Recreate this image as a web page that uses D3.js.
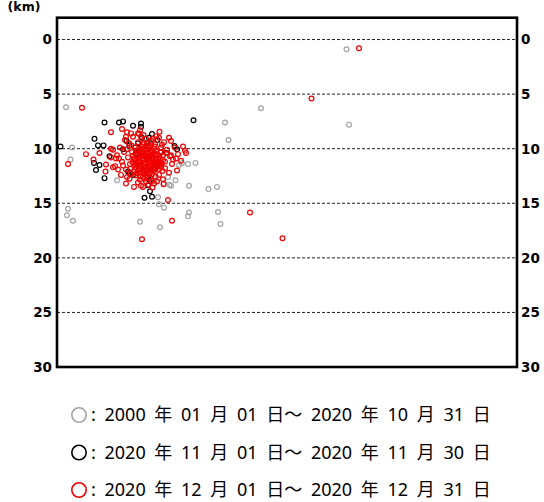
<!DOCTYPE html>
<html>
<head>
<meta charset="utf-8">
<script src="https://cdn.jsdelivr.net/npm/d3@7"></script>
<style>
  body { margin: 0; background: #fff; }
  svg { display: block; }
</style>
</head>
<body>
<script>
/* ---------------------------- */
/* DATA                         */
/* ---------------------------- */

// Depth ticks (km)
const depthTicks = [0, 5, 10, 15, 20, 25, 30];
const gridDepths = [0, 5, 10, 15, 20, 25];

// Legend labels (period of each group)
const periods = [
  ": 2000 年 01 月 01 日～ 2020 年 10 月 31 日",
  ": 2020 年 11 月 01 日～ 2020 年 11 月 30 日",
  ": 2020 年 12 月 01 日～ 2020 年 12 月 31 日"
];

// Hypocenters [distance, depth] -- 2000/01/01 - 2020/10/31
const grayQuakes = [
  [28.95, 0.9], [29.2, 7.8], [20.4, 6.3], [16.8, 7.6], [17.15, 9.2],
  [0.9, 6.2], [1.5, 9.9], [1.35, 11.0], [1.1, 15.5], [1.0, 16.1], [1.6, 16.6],
  [6.0, 12.9], [9.75, 13.0], [10.1, 12.7], [11.25, 13.3], [11.85, 12.9],
  [11.1, 12.6], [12.2, 11.5], [12.5, 11.3], [13.1, 11.4], [13.85, 11.3],
  [13.2, 13.4], [15.15, 13.7], [16.0, 13.5], [10.1, 14.45], [10.2, 15.1],
  [10.7, 15.4], [10.3, 17.2], [8.3, 16.7], [13.2, 15.85], [13.1, 16.2],
  [16.1, 15.8], [16.35, 16.9], [10.7, 13.2], [11.4, 13.4]
];

// 2020/11/01 - 2020/11/30
const blackQuakes = [
  [0.35, 9.8], [3.75, 9.1], [4.1, 9.7], [4.65, 9.7], [4.75, 7.6], [6.2, 7.6],
  [6.6, 7.5], [7.6, 7.9], [8.4, 7.7], [8.4, 8.0], [13.65, 7.4], [9.5, 8.65],
  [9.2, 9.0], [8.5, 9.0], [7.25, 9.7], [6.6, 10.05], [11.75, 9.75], [12.0, 10.05],
  [11.0, 10.4], [5.25, 10.7], [3.7, 11.3], [3.9, 11.95], [4.75, 12.7], [7.1, 12.1],
  [7.6, 12.4], [8.9, 12.1], [9.25, 12.9], [9.1, 13.35], [9.3, 13.9], [8.75, 14.5],
  [9.5, 14.4], [7.9, 10.4], [9.4, 9.5], [4.25, 11.5], [8.1, 9.5], [8.9, 10.1],
  [10.4, 10.3], [7.25, 12.25], [9.1, 12.6], [10.05, 9.2], [6.95, 9.3], [9.75, 11.8]
];

// 2020/12/01 - 2020/12/31
const redQuakes = [
  // scattered events
  [30.2, 0.8], [25.45, 5.4], [2.5, 6.25], [19.3, 15.85], [22.55, 18.2], [8.5, 18.3],
  [11.5, 16.6], [11.1, 14.7], [10.65, 13.25], [1.1, 11.4], [2.9, 10.5], [3.65, 11.0],
  [4.25, 10.4], [4.9, 11.45], [4.85, 12.1], [5.6, 11.7], [5.4, 10.0], [5.4, 8.5],
  [6.5, 8.2], [7.0, 8.5], [7.4, 8.6], [8.1, 8.6], [8.3, 8.3], [10.25, 8.45],
  [12.9, 10.4], [11.4, 10.6], [6.9, 13.2], [8.6, 13.5], [9.9, 11.3], [10.4, 11.65],
  [5.9, 10.9],
  // main cluster
  [8.9, 10.9], [8.6, 10.7], [9.2, 11.1], [8.3, 11.2], [9.5, 10.6], [8.0, 10.5],
  [9.8, 11.3], [8.7, 11.5], [9.1, 10.3], [7.7, 11.0], [10.1, 10.9], [8.4, 10.1],
  [9.4, 11.7], [7.9, 11.7], [10.3, 11.5], [8.8, 12.0], [7.5, 10.3], [9.9, 10.2],
  [7.3, 11.4], [10.6, 10.6], [8.2, 12.2], [9.6, 12.1], [8.5, 9.8], [9.3, 9.9],
  [7.1, 10.8], [10.8, 11.2], [7.8, 9.9], [10.4, 9.9], [6.9, 11.9], [11.0, 10.1],
  [8.1, 9.4], [9.0, 9.5], [9.8, 9.6], [7.4, 12.3], [10.2, 12.4], [8.6, 12.6],
  [9.3, 12.7], [6.7, 10.3], [11.3, 10.7], [6.5, 11.2], [11.5, 11.4], [7.2, 9.5],
  [10.7, 9.4], [8.9, 9.1], [8.4, 8.9], [9.6, 9.1], [6.3, 9.9], [11.8, 9.9],
  [6.0, 10.6], [12.1, 10.5], [7.0, 12.6], [10.6, 12.8], [8.9, 13.0], [8.1, 13.1],
  [9.7, 13.2], [6.4, 12.4], [11.2, 12.2], [5.8, 11.6], [12.4, 11.1], [6.8, 9.2],
  [11.4, 9.3], [7.6, 8.9], [10.2, 9.0], [5.6, 10.1], [12.6, 9.8],
  [8.75, 11.25], [9.05, 10.75], [8.45, 10.45], [9.35, 11.35], [8.15, 10.85], [9.65, 10.95],
  [8.55, 11.85], [9.25, 12.35], [7.95, 11.35], [10.05, 11.65], [7.6, 10.65], [10.35, 10.35],
  [8.35, 12.55], [9.85, 12.55], [7.35, 11.85], [10.55, 12.05], [8.0, 10.15], [9.7, 10.0],
  [7.0, 10.05], [10.9, 10.4], [8.7, 9.45], [9.4, 9.25], [6.6, 11.55], [11.6, 11.0],
  [7.85, 12.45], [10.8, 11.8], [9.15, 13.3], [8.4, 13.4], [7.45, 9.7], [10.5, 9.65],
  [6.2, 10.9], [11.9, 10.9], [7.25, 12.75], [10.0, 13.0], [8.65, 8.75], [9.9, 8.85],
  [6.1, 11.9], [12.0, 12.0], [5.4, 10.8], [12.8, 10.2], [7.7, 13.5], [9.55, 13.55],
  [11.2, 9.0], [6.9, 8.9], [8.2, 8.6], [8.95, 10.05], [8.25, 11.6], [9.5, 11.9],
  [7.65, 12.1], [10.25, 10.75], [9.0, 12.5], [8.55, 10.25], [9.15, 11.55],
  // dense core
  [8.05, 10.6], [8.3, 10.75], [8.55, 10.95], [8.8, 10.55], [9.05, 10.4], [9.3, 10.6],
  [9.55, 10.8], [9.8, 10.65], [10.0, 10.5], [7.9, 11.1], [8.15, 11.3], [8.4, 11.45],
  [8.65, 11.05], [8.9, 11.35], [9.15, 11.2], [9.4, 10.95], [9.65, 11.15], [9.9, 11.05],
  [10.15, 11.2], [8.0, 11.55], [8.3, 11.85], [8.6, 11.65], [8.85, 11.75], [9.1, 11.9],
  [9.35, 11.6], [9.6, 11.45], [9.85, 11.75], [10.1, 11.4], [8.2, 10.35], [8.45, 10.6],
  [8.7, 10.3], [8.95, 10.6], [9.2, 10.85], [9.45, 10.35], [9.7, 10.45], [10.3, 11.0],
  [8.5, 12.15], [8.75, 12.3], [9.0, 12.05], [9.25, 12.2], [9.5, 12.35], [8.1, 12.0],
  [9.75, 11.95], [8.85, 10.15], [9.55, 10.15], [8.25, 10.0], [9.2, 9.7], [8.6, 9.6],
  [9.0, 9.8], [9.75, 9.8], [7.75, 10.85], [7.55, 11.25], [7.8, 11.5], [10.45, 11.35],
  [10.6, 11.05], [10.2, 11.85], [7.95, 12.25], [8.75, 12.75], [9.45, 12.95], [8.3, 12.85]
];

const groups = [
  {data: grayQuakes, color: "#a3a3a3"},
  {data: blackQuakes, color: "#000000"},
  {data: redQuakes, color: "#f00000"}
];

/* ---------------------------- */
/* CANVAS                       */
/* ---------------------------- */

const w = 544;
const h = 502;

const svg = d3.select("body")
  .append("svg")
    .attr("width", w)
    .attr("height", h);

// distance along the section (no labels), depth in km
const x = d3.scaleLinear().domain([0, 46]).range([57, 517]);
const y = d3.scaleLinear().domain([-2, 30]).range([17.7, 367]);

// dashed depth grid
svg.append("g")
  .selectAll("line")
  .data(gridDepths)
  .enter()
  .append("line")
    .attr("x1", x(0))
    .attr("x2", x(46))
    .attr("y1", d => y(d))
    .attr("y2", d => y(d))
    .attr("stroke", "#222")
    .attr("stroke-width", 1)
    .attr("stroke-dasharray", "3,2");

// left and right depth labels
const tickFont = "'DejaVu Sans', sans-serif";
svg.append("g")
  .selectAll("text")
  .data(depthTicks)
  .enter()
  .append("text")
    .attr("x", x(0) - 5)
    .attr("y", d => y(d))
    .attr("dy", "0.36em")
    .attr("text-anchor", "end")
    .style("font-family", tickFont)
    .style("font-size", "13.5px")
    .style("font-weight", "bold")
    .text(d => d);

svg.append("g")
  .selectAll("text")
  .data(depthTicks)
  .enter()
  .append("text")
    .attr("x", x(46) + 4)
    .attr("y", d => y(d))
    .attr("dy", "0.36em")
    .attr("text-anchor", "start")
    .style("font-family", tickFont)
    .style("font-size", "13.5px")
    .style("font-weight", "bold")
    .text(d => d);

// unit label at the top-left corner
svg.append("text")
  .attr("x", 24)
  .attr("y", 11)
  .attr("text-anchor", "middle")
  .style("font-family", tickFont)
  .style("font-size", "12.5px")
  .style("font-weight", "bold")
  .text("(km)");

// hypocenters
groups.forEach(g => {
  svg.append("g")
    .selectAll("circle")
    .data(g.data)
    .enter()
    .append("circle")
      .attr("cx", d => x(d[0]))
      .attr("cy", d => y(d[1]))
      .attr("r", 2.4)
      .attr("fill", "none")
      .attr("stroke", g.color)
      .attr("stroke-width", 1.2);
});

// frame
svg.append("rect")
  .attr("x", x(0))
  .attr("y", y(-2))
  .attr("width", x(46) - x(0))
  .attr("height", y(30) - y(-2))
  .attr("fill", "none")
  .attr("stroke", "#000")
  .attr("stroke-width", 2.6);

/* ---------------------------- */
/* LEGEND                       */
/* ---------------------------- */

const legendY = d3.scalePoint().domain(d3.range(periods.length)).range([415, 490]);

const legend = svg.append("g")
  .selectAll("g")
  .data(periods)
  .enter()
  .append("g")
    .attr("transform", (d, i) => "translate(0," + legendY(i) + ")");

legend.append("circle")
  .attr("cx", 79)
  .attr("cy", 0)
  .attr("r", 7.2)
  .attr("fill", "none")
  .attr("stroke", (d, i) => groups[i].color)
  .attr("stroke-width", 1.6);

legend.append("text")
  .attr("x", 91)
  .attr("y", 0)
  .attr("dy", "0.36em")
  .style("font-family", "'Noto Sans', 'Noto Sans CJK JP', sans-serif")
  .style("font-size", "18px")
  .style("word-spacing", "4px")
  .text(d => d);
</script>
</body>
</html>
